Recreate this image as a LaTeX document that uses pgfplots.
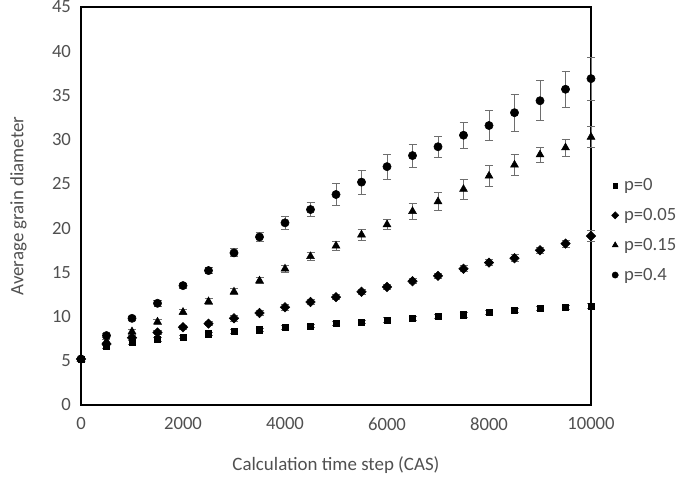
\documentclass[border=0pt]{standalone}
\usepackage{pgfplots}
\pgfplotsset{compat=1.18}
\usepackage{pgfplotstable}
\usepackage{fontspec}
\setmainfont{Carlito}
\definecolor{txt}{HTML}{505050}
\definecolor{ebar}{HTML}{6E6E6E}

\pgfplotstableread{
x y e
0 5.2 0.1
500 6.6 0.2
1000 7.1 0.2
1500 7.4 0.2
2000 7.7 0.2
2500 8.05 0.2
3000 8.3 0.2
3500 8.5 0.2
4000 8.8 0.2
4500 8.95 0.2
5000 9.2 0.2
5500 9.4 0.2
6000 9.6 0.25
6500 9.8 0.25
7000 10.0 0.25
7500 10.2 0.25
8000 10.45 0.25
8500 10.7 0.25
9000 10.9 0.25
9500 11.05 0.25
10000 11.2 0.25
}\pzero

\pgfplotstableread{
x y e
0 5.2 0.1
500 6.9 0.2
1000 7.6 0.25
1500 8.2 0.25
2000 8.8 0.25
2500 9.2 0.25
3000 9.8 0.3
3500 10.4 0.3
4000 11.05 0.3
4500 11.65 0.3
5000 12.2 0.3
5500 12.8 0.3
6000 13.35 0.3
6500 14.0 0.3
7000 14.6 0.3
7500 15.4 0.35
8000 16.1 0.35
8500 16.6 0.4
9000 17.5 0.35
9500 18.25 0.4
10000 19.1 0.65
}\pfive

\pgfplotstableread{
x y e
0 5.2 0.1
500 7.2 0.2
1000 8.3 0.3
1500 9.4 0.3
2000 10.5 0.3
2500 11.7 0.3
3000 12.8 0.35
3500 14.05 0.35
4000 15.4 0.4
4500 16.8 0.4
5000 18.0 0.5
5500 19.25 0.6
6000 20.4 0.55
6500 21.9 0.9
7000 23.0 1.0
7500 24.4 1.1
8000 25.9 1.2
8500 27.15 1.2
9000 28.3 0.85
9500 29.1 0.95
10000 30.3 1.2
}\pfifteen

\pgfplotstableread{
x y e
0 5.2 0.1
500 7.85 0.2
1000 9.8 0.25
1500 11.5 0.3
2000 13.5 0.3
2500 15.2 0.35
3000 17.2 0.45
3500 19.0 0.5
4000 20.6 0.75
4500 22.1 0.8
5000 23.8 1.25
5500 25.2 1.35
6000 26.95 1.4
6500 28.2 1.3
7000 29.2 1.2
7500 30.5 1.5
8000 31.6 1.7
8500 33.05 2.1
9000 34.4 2.25
9500 35.7 2.05
10000 36.9 2.45
}\pforty

\begin{document}
\begin{tikzpicture}
\path[use as bounding box] (-60.75pt,-57pt) rectangle (447pt,303.75pt);
\begin{axis}[
  at={(0,0)}, anchor=south west,
  scale only axis,
  width=382.5pt, height=298.5pt,
  xmin=0, xmax=10000, ymin=0, ymax=45,
  xtick={0,2000,...,10000},
  ytick={0,5,...,45},
  scaled x ticks=false,
  major tick length=0pt,
  axis line style={black, line width=0.9pt},
  tick label style={font=\fontsize{14}{16.5}\selectfont, text=txt},
  /pgf/number format/assume math mode=true,
  /pgf/number format/1000 sep={},
  xticklabel style={yshift=-6pt},
  yticklabel style={xshift=-4pt},
  label style={font=\fontsize{14.2}{17}\selectfont, text=txt},
  xlabel={Calculation time step (CAS)},
  ylabel={Average grain diameter},
  xlabel style={at={(axis description cs:0.5,0)}, anchor=center, yshift=-45pt},
  ylabel style={at={(axis description cs:0,0.5)}, anchor=center, xshift=0pt, yshift=47pt},
  clip=false,
  legend style={at={(1.04,0.439)}, anchor=west, draw=none, fill=none,
    font=\fontsize{14}{16.5}\selectfont, text=txt, row sep=7.8pt,
    column sep=2pt,
    legend cell align=left, inner xsep=0pt},
  legend image post style={scale=0.75},
  legend image code/.code={\draw[mark repeat=2,mark phase=2] plot coordinates {(0cm,0cm) (0.15cm,0cm) (0.3cm,0cm)};},
  error bars/y dir=both, error bars/y explicit,
  error bars/error bar style={color=ebar, line width=0.6pt},
  error bars/error mark options={rotate=90, mark size=3pt, color=ebar, line width=0.6pt},
]
\addplot[only marks, mark=square*, mark size=2.3pt, black] table[x=x, y=y, y error=e] {\pzero};
\addlegendentry{p=0}
\addplot[only marks, mark=square*, mark size=2.5pt, mark options={rotate=45}, black] table[x=x, y=y, y error=e] {\pfive};
\addlegendentry{p=0.05}
\addplot[only marks, mark=triangle*, mark size=3.4pt, black] table[x=x, y=y, y error=e] {\pfifteen};
\addlegendentry{p=0.15}
\addplot[only marks, mark=*, mark size=3.1pt, black] table[x=x, y=y, y error=e] {\pforty};
\addlegendentry{p=0.4}
\end{axis}
\end{tikzpicture}
\end{document}
